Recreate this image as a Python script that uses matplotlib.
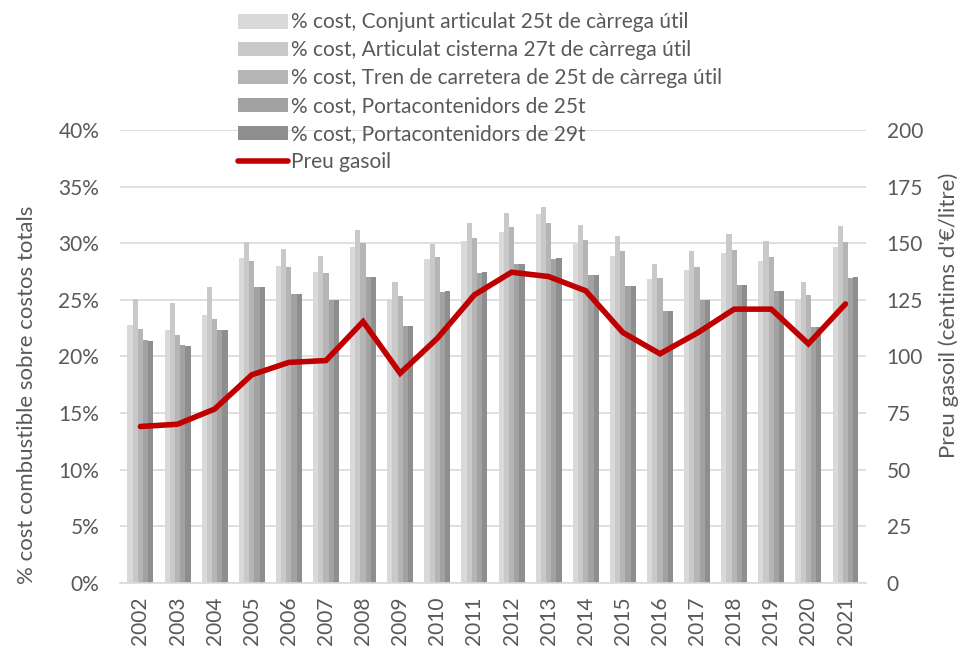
import numpy as np
import matplotlib
matplotlib.use("Agg")
import matplotlib.pyplot as plt
from matplotlib.ticker import FuncFormatter

plt.rcParams['font.family'] = ['Lato', 'DejaVu Sans']

# dades
anys = [str(a) for a in range(2002, 2022)]
conjunt_25t = [22.8, 22.35, 23.7, 28.7, 28.0, 27.5, 29.7, 25.1, 28.6, 30.2,
               31.0, 32.6, 29.9, 28.9, 26.8, 27.6, 29.1, 28.4, 25.1, 29.7]
cisterna_27t = [25.1, 24.7, 26.1, 30.1, 29.5, 28.9, 31.2, 26.6, 29.9, 31.8,
                32.7, 33.2, 31.6, 30.6, 28.2, 29.3, 30.8, 30.2, 26.6, 31.5]
tren_25t = [22.4, 21.9, 23.3, 28.4, 27.9, 27.4, 30.0, 25.3, 28.8, 30.5,
            31.4, 31.8, 30.3, 29.3, 26.9, 27.9, 29.4, 28.8, 25.4, 30.1]
porta_25t = [21.5, 21.05, 22.3, 26.1, 25.5, 25.0, 27.0, 22.7, 25.7, 27.4,
             28.2, 28.6, 27.2, 26.2, 24.05, 25.0, 26.35, 25.8, 22.6, 26.9]
porta_29t = [21.4, 20.9, 22.3, 26.1, 25.5, 25.0, 27.05, 22.7, 25.8, 27.5,
             28.2, 28.7, 27.2, 26.2, 24.05, 25.0, 26.35, 25.8, 22.6, 27.0]
preu_gasoil = [69.1, 70.1, 76.8, 91.9, 97.4, 98.2, 115.4, 92.6, 108.0, 127.2,
               137.2, 135.3, 129.0, 110.6, 101.2, 110.3, 120.9, 120.9, 105.6, 123.2]

series = [conjunt_25t, cisterna_27t, tren_25t, porta_25t, porta_29t]
noms = ["% cost, Conjunt articulat 25t de càrrega útil",
        "% cost, Articulat cisterna 27t de càrrega útil",
        "% cost, Tren de carretera de 25t de càrrega útil",
        "% cost, Portacontenidors de 25t",
        "% cost, Portacontenidors de 29t"]
colors = ["#D9D9D9", "#C9C9C9", "#B5B5B5", "#A2A2A2", "#8E8E8E"]

gris = "#595959"
fig = plt.figure(figsize=(9.6, 6.49), dpi=100)
ax = fig.add_axes([0.125, 0.1017, 0.777, 0.698])
ax2 = ax.twinx()

x = np.arange(len(anys))
w = 0.14
for i, (s, c, n) in enumerate(zip(series, colors, noms)):
    ax.bar(x + (i - 2) * w, s, width=w, color=c, label=n, zorder=2)

ax2.plot(x, preu_gasoil, color="#C00000", lw=4, solid_capstyle='round',
         solid_joinstyle='miter', label="Preu gasoil", zorder=3)

ax.set_xlim(-0.55, len(anys) - 0.45)
ax.set_ylim(0, 40)
ax.set_yticks(np.arange(0, 41, 5))
ax.yaxis.set_major_formatter(FuncFormatter(lambda v, p: f"{v:.0f}%"))
ax2.set_ylim(0, 200)
ax2.set_yticks(np.arange(0, 201, 25))

ax.set_xticks(x)
ax.set_xticklabels(anys, rotation=90)
ax.grid(axis='y', color="#D9D9D9", lw=1.2, zorder=0)
ax.set_axisbelow(True)

for a in (ax, ax2):
    for sp in a.spines.values():
        sp.set_visible(False)
    a.tick_params(length=0, colors=gris, labelsize=15)
ax.spines['bottom'].set_visible(True)
ax.spines['bottom'].set_color("#D9D9D9")
ax.spines['bottom'].set_linewidth(1.2)
ax.tick_params(axis='x', pad=10)
ax.tick_params(axis='y', pad=15)
ax2.tick_params(axis='y', pad=15)

ax.set_ylabel("% cost combustible sobre costos totals", color=gris, fontsize=16, labelpad=15)
ax2.set_ylabel("Preu gasoil (cèntims d'€/litre)", color=gris, fontsize=16, labelpad=11)
# els títols d'eix no estan centrats a l'original
ax.yaxis.label.set_y(0.415)
ax2.yaxis.label.set_y(0.59)

h1, l1 = ax.get_legend_handles_labels()
h2, l2 = ax2.get_legend_handles_labels()
leg = fig.legend(h1 + h2, l1 + l2, loc='upper left', bbox_to_anchor=(0.235, 1.0),
                 frameon=False, fontsize=15, handlelength=2.4, handletextpad=0.15,
                 labelspacing=0.38, borderaxespad=0.2)
for t in leg.get_texts():
    t.set_color(gris)

fig.savefig("out.png", dpi=100)
